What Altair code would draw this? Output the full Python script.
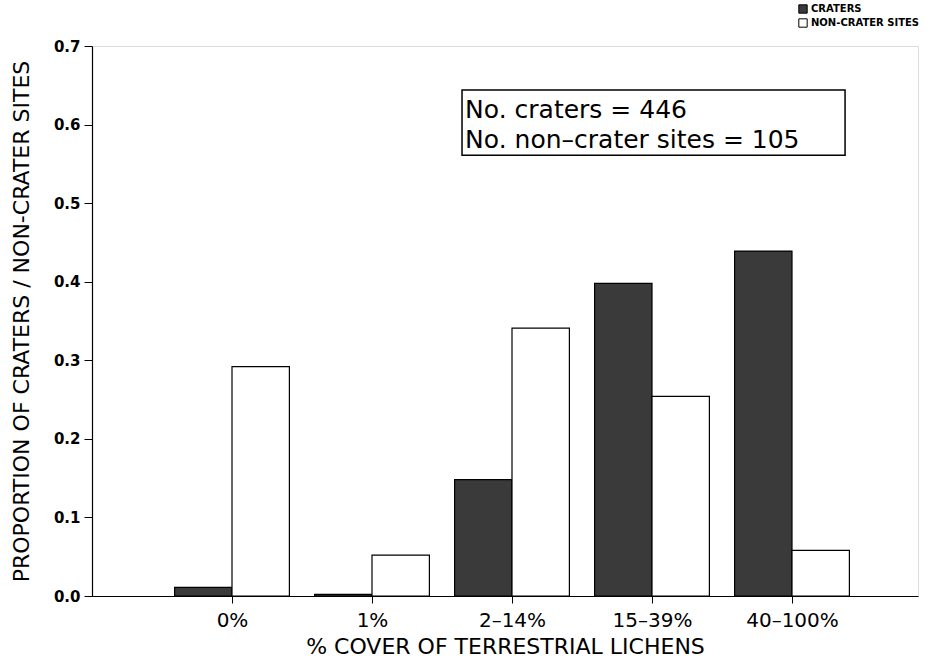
import altair as alt
import pandas as pd

categories = ["0%", "1%", "2-14%", "15-39%", "40-100%"]
craters = [0.011, 0.002, 0.148, 0.398, 0.439]
non_craters = [0.292, 0.052, 0.341, 0.254, 0.058]
series_names = ["CRATERS", "NON-CRATER SITES"]
y_ticks = [0.0, 0.1, 0.2, 0.3, 0.4, 0.5, 0.6, 0.7]
box_lines = ["No. craters = 446", "No. non-crater sites = 105"]

BW = 0.41
rows = []
for i, c in enumerate(categories):
    pos = i + 1
    rows.append({"cat": c, "series": series_names[0], "value": craters[i], "x0": pos - BW, "x1": pos})
    rows.append({"cat": c, "series": series_names[1], "value": non_craters[i], "x0": pos, "x1": pos + BW})
df = pd.DataFrame(rows)

label_expr = " : ".join(
    [f"datum.value == {i+1} ? '{c.replace('-', '–')}'" for i, c in enumerate(categories)]
) + " : ''"

FONT = "DejaVu Sans"

x_scale = alt.Scale(domain=[0, 5.9], nice=False, zero=False)
y_scale = alt.Scale(domain=[0, 0.7], nice=False)

bars = alt.Chart(df).mark_rect(stroke="black", strokeWidth=1.2).encode(
    x=alt.X("x0:Q", scale=x_scale,
            axis=alt.Axis(values=[1, 2, 3, 4, 5], labelExpr=label_expr, grid=False,
                          title="% COVER OF TERRESTRIAL LICHENS",
                          titleFont=FONT, titleFontSize=22, titleFontWeight="normal",
                          titleColor="black", titlePadding=6,
                          labelFont=FONT, labelFontSize=20, labelColor="black",
                          labelPadding=7, tickSize=7, tickColor="black",
                          domainColor="black", domainWidth=1.2)),
    x2="x1:Q",
    y=alt.Y("value:Q", scale=y_scale,
            axis=alt.Axis(values=y_ticks, format=".1f", grid=False,
                          title="PROPORTION OF CRATERS / NON-CRATER SITES",
                          titleFont=FONT, titleFontSize=22, titleFontWeight="normal",
                          titleColor="black", titlePadding=20,
                          labelFont=FONT, labelFontSize=15, labelFontWeight="bold",
                          labelColor="black", labelPadding=4, tickSize=8,
                          tickColor="black", domainColor="black", domainWidth=1.2)),
    y2=alt.datum(0),
    fill=alt.Fill("series:N",
                  scale=alt.Scale(domain=series_names, range=["#3a3a3a", "white"]),
                  legend=alt.Legend(title=None, orient="none", legendX=706, legendY=-42,
                                    symbolType="square", symbolSize=70,
                                    symbolStrokeColor="black", symbolStrokeWidth=1,
                                    labelFont=FONT, labelFontSize=10, labelFontWeight="bold",
                                    labelColor="black", rowPadding=0, labelOffset=3)),
)

box_df = pd.DataFrame([{"x0": 2.643, "x1": 5.379, "y0": 0.561, "y1": 0.644}])
box = alt.Chart(box_df).mark_rect(fill="white", stroke="black", strokeWidth=1.5).encode(
    x="x0:Q", x2="x1:Q", y="y0:Q", y2="y1:Q"
)

text_df = pd.DataFrame([
    {"x": 2.665, "y": 0.6185, "t": box_lines[0]},
    {"x": 2.665, "y": 0.580, "t": box_lines[1].replace("-", "–")},
])
texts = alt.Chart(text_df).mark_text(align="left", baseline="middle", font=FONT,
                                     fontSize=25, color="black").encode(
    x="x:Q", y="y:Q", text="t:N"
)

chart = alt.layer(bars, box, texts).properties(
    width=826, height=550,
    autosize=alt.AutoSizeParams(type="none"),
    padding={"left": 92, "top": 46, "right": 19, "bottom": 64},
).configure_view(stroke=None).configure(background="white")

chart.save("out.html", embed_options={"renderer": "svg", "actions": False})
